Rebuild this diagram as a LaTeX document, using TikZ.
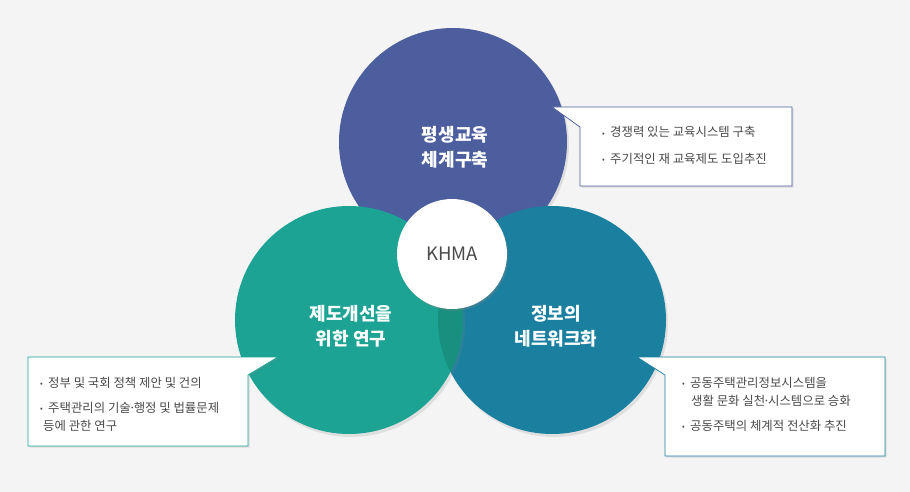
\documentclass[tikz,border=0pt]{standalone}
\usepackage{fontspec}
\setmainfont{Noto Sans CJK KR}
\usetikzlibrary{shadows}
\definecolor{bgc}{HTML}{F4F4F4}
\definecolor{educ}{HTML}{4C5E9E}
\definecolor{lawc}{HTML}{1CA394}
\definecolor{netc}{HTML}{1B80A0}
\definecolor{lensc}{HTML}{17907F}
\definecolor{txtc}{HTML}{4A4A4A}
\newcommand{\itm}{\makebox[8pt][l]{\fontsize{8}{8}\selectfont\raisebox{1pt}{•}}}
\newcommand{\mdot}{\kern-2pt·\kern-2pt}
\tikzset{
 ring/.style={circle,minimum size=228pt,inner sep=0pt,
  drop shadow={shadow xshift=2pt,shadow yshift=-3pt,opacity=.18}},
 title/.style={text=white,font=\fontsize{18}{25}\selectfont\bfseries,align=center},
 note/.style={text=txtc,font=\fontsize{12.4}{18}\selectfont,anchor=base west,align=left,inner sep=0pt},
 callout/.style={fill=white,line width=.7pt,
  drop shadow={shadow xshift=1.5pt,shadow yshift=-1.5pt,opacity=.2}},
}
\begin{document}
\begin{tikzpicture}[x=1pt,y=-1pt]
\fill[bgc] (0,0) rectangle (910,492);
\useasboundingbox (0,0) rectangle (910,492);
% three rings
\node[ring,fill=educ] (edu) at (453,142) {};
\node[ring,fill=netc] (net) at (552,320) {};
\node[ring,fill=lawc] (law) at (349,320) {};
\begin{scope}
\clip (net.center) circle[radius=114pt];
\fill[lensc] (law.center) circle[radius=114pt];
\end{scope}
\node[circle,fill=white,minimum size=110pt,inner sep=0pt,
 drop shadow={shadow xshift=1.5pt,shadow yshift=-2pt,opacity=.3}] (khma) at (452,254)
 {\fontsize{18.5}{18.5}\selectfont\color{txtc}KHMA};
\node[title] (eduT) at (455,147) {평생교육\\체계구축};
\node[title] (lawT) at (351,326) {제도개선을\\위한 연구};
\node[title] (netT) at (556,326) {정보의\\네트워크화};
% callouts
\draw[callout,draw=educ] (552,107)--(792,107)--(792,186)--(580,186)--(580,127)--cycle;
\draw[callout,draw=lawc] (278,357)--(248,375)--(248,446)--(28,446)--(28,357)--cycle;
\draw[callout,draw=netc] (637,357)--(885,357)--(885,456)--(665,456)--(665,375)--cycle;
\node[note] (edu1) at (602,137) {\itm 경쟁력 있는 교육시스템 구축};
\node[note] (edu2) at (602,163) {\itm 주기적인 재 교육제도 도입추진};
\node[note] (law1) at (40,387) {\itm 정부 및 국회 정책 제안 및 건의};
\node[note] (law2) at (40,430) {\itm 주택관리의 기술\mdot 행정 및 법률문제\\\hspace*{3pt}등에 관한 연구};
\node[note] (net1) at (682,405) {\itm 공동주택관리정보시스템을\\\hspace*{9pt}생활 문화 실천\mdot 시스템으로 승화};
\node[note] (net2) at (682,430) {\itm 공동주택의 체계적 전산화 추진};
\end{tikzpicture}
\end{document}
